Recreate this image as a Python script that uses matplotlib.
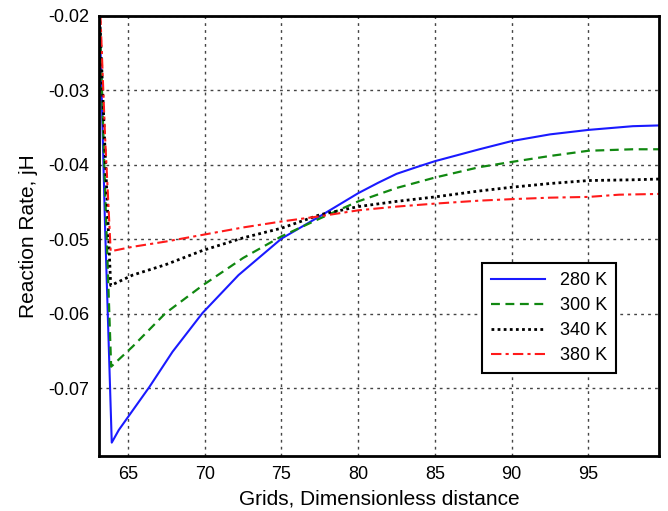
import matplotlib
matplotlib.use('Agg')
import matplotlib.pyplot as plt
from matplotlib.ticker import FormatStrFormatter

plt.rcParams['font.family'] = ['Liberation Sans', 'DejaVu Sans']
plt.rcParams['axes.unicode_minus'] = False

# values
x_280 = [63.15, 63.5, 63.94, 64.4, 66.4, 67.9, 69.85, 72.2, 75.0, 77.5, 80.0, 81.3, 82.5, 83.8, 85.0, 87.9, 90.0, 92.5, 95.0, 97.9, 99.6]
y_280 = [-0.0198, -0.048, -0.0773, -0.0756, -0.0698, -0.0651, -0.0599, -0.0548, -0.0499, -0.0469, -0.0438, -0.0424, -0.0412, -0.0403, -0.0395, -0.0379, -0.0368, -0.0359, -0.0353, -0.0348, -0.0347]

x_300 = [63.15, 63.5, 63.9, 65.3, 67.45, 69.85, 72.5, 75.0, 77.5, 80.0, 82.5, 85.0, 87.9, 90.0, 92.5, 95.0, 97.9, 99.6]
y_300 = [-0.0198, -0.043, -0.0671, -0.0644, -0.0599, -0.0562, -0.0525, -0.0496, -0.0472, -0.0449, -0.0431, -0.0417, -0.0403, -0.0396, -0.0388, -0.0381, -0.0379, -0.0379]

x_340 = [63.15, 63.5, 63.87, 65.3, 67.45, 69.85, 72.5, 75.0, 77.5, 80.0, 82.5, 85.0, 87.9, 90.0, 92.5, 95.0, 97.9, 99.6]
y_340 = [-0.0198, -0.038, -0.0562, -0.0548, -0.0534, -0.0515, -0.0498, -0.0485, -0.0467, -0.0456, -0.0449, -0.0443, -0.0435, -0.0430, -0.0425, -0.0421, -0.0420, -0.0419]

x_380 = [63.2, 63.5, 63.87, 65.3, 67.45, 69.85, 72.5, 75.0, 77.5, 80.0, 82.5, 85.0, 87.9, 90.0, 92.5, 95.0, 97.0, 99.6]
y_380 = [-0.0198, -0.036, -0.0516, -0.0510, -0.0503, -0.0494, -0.0484, -0.0476, -0.0469, -0.0461, -0.0456, -0.0452, -0.0448, -0.0446, -0.0444, -0.0443, -0.0440, -0.0439]

x_ticks = [65, 70, 75, 80, 85, 90, 95]
y_ticks = [-0.07, -0.06, -0.05, -0.04, -0.03, -0.02]

fig = plt.figure(figsize=(6.68, 5.11), dpi=100)
ax = fig.add_axes([0.148, 0.1076, 0.8385, 0.8611])

ax.plot(x_280, y_280, color='#1a1aff', linestyle='-', linewidth=1.5, label='280 K')
ax.plot(x_300, y_300, color='#118811', linestyle=(0, (4, 2.5)), linewidth=1.6, label='300 K')
ax.plot(x_340, y_340, color='black', linestyle=(0, (1, 1.2)), linewidth=2.0, label='340 K')
ax.plot(x_380, y_380, color='#ff1a1a', linestyle=(0, (5, 2, 1.5, 2)), linewidth=1.5, label='380 K')

ax.set_xlim(63.1, 99.6)
ax.set_ylim(-0.0791, -0.02)
ax.set_xticks(x_ticks)
ax.set_yticks(y_ticks)
ax.yaxis.set_major_formatter(FormatStrFormatter('%.2f'))
ax.tick_params(length=0, labelsize=13, pad=7)

ax.grid(True, color='#444444', linestyle=(0, (2, 3)), linewidth=1.0)
for s in ax.spines.values():
    s.set_linewidth(2)

ax.set_xlabel('Grids, Dimensionless distance', fontsize=15, labelpad=5)
ax.set_ylabel('Reaction Rate, jH', fontsize=15, labelpad=7)

leg = ax.legend(loc='upper left', bbox_to_anchor=(0.684, 0.4386), fontsize=13,
                handlelength=3.0, fancybox=False, framealpha=1, borderpad=0.5,
                labelspacing=0.45, edgecolor='black', borderaxespad=0)
leg.get_frame().set_linewidth(1.5)

fig.savefig('out.png', dpi=100)
